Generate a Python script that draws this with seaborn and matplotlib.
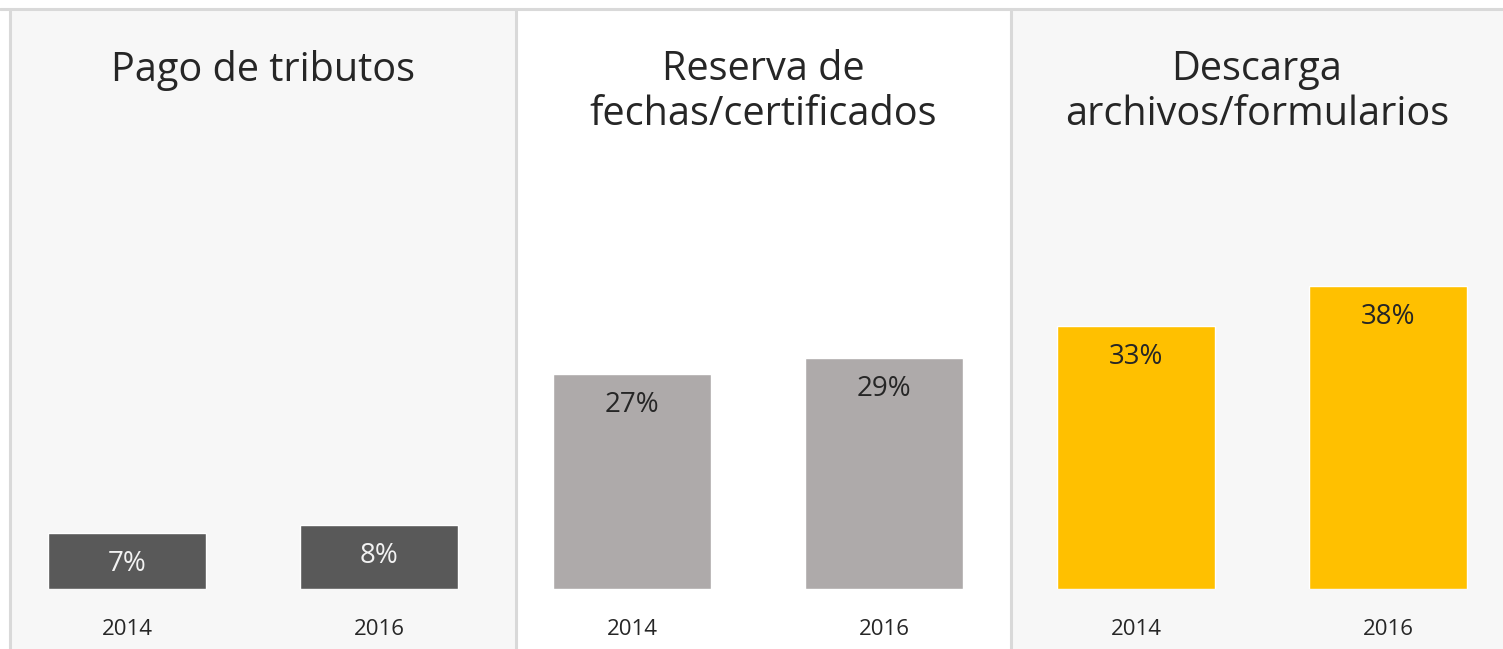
import matplotlib
matplotlib.use("Agg")
import matplotlib.pyplot as plt
import seaborn as sns
from matplotlib.patches import Rectangle
from matplotlib.lines import Line2D

# data
titles = ["Pago de tributos", "Reserva de\nfechas/certificados", "Descarga\narchivos/formularios"]
years = ["2014", "2016"]
pago = [7, 8]
reserva = [27, 29]
descarga = [33, 38]
series = [pago, reserva, descarga]

bar_colors = ["#595959", "#AEAAAA", "#FFC000"]
label_colors = ["#F2F2F2", "#262626", "#262626"]
panel_bg = ["#F7F7F7", "#FFFFFF", "#F7F7F7"]

W, H = 1503, 649
sns.set_theme(style="white")
plt.rcParams["font.family"] = ["Open Sans", "DejaVu Sans"]

fig = plt.figure(figsize=(W / 100, H / 100), dpi=100)
fig.patch.set_facecolor("white")

# panel edges in pixels
edges = [10, 516, 1011, 1503]
top_px = 9
base_px = 589          # bar baseline, from top
bar0_px = [127, 632, 1136]   # centre of first bar in each panel
step_px = 252
px_per_unit = 7.97

for i in range(3):
    x0, x1 = edges[i], edges[i + 1]
    fig.patches.append(Rectangle((x0 / W, 0), (x1 - x0) / W, 1 - top_px / H,
                                 transform=fig.transFigure, facecolor=panel_bg[i],
                                 edgecolor="none", zorder=-2))

# borders
border = "#D9D9D9"
fig.lines.append(Line2D([0, 1], [1 - top_px / H] * 2, transform=fig.transFigure,
                        color=border, lw=2.2, zorder=-1))
for xe in edges[:3]:
    fig.lines.append(Line2D([xe / W] * 2, [0, 1 - top_px / H], transform=fig.transFigure,
                            color=border, lw=2.2, zorder=-1))

ax_h = base_px - top_px
for i, vals in enumerate(series):
    left = bar0_px[i] - step_px / 2
    ax = fig.add_axes([left / W, (H - base_px) / H, 2 * step_px / W, ax_h / H])
    ax.patch.set_visible(False)
    sns.barplot(x=years, y=vals, color=bar_colors[i], saturation=1, width=0.63, ax=ax)
    ax.set_xlim(-0.5, 1.5)
    ax.set_ylim(0, ax_h / px_per_unit)
    for j, v in enumerate(vals):
        ax.annotate(f"{v}%", (j, v), xytext=(0, -22.5), textcoords="offset points",
                    ha="center", va="center", fontsize=20, color=label_colors[i])
    ax.set_yticks([])
    ax.tick_params(axis="x", length=0, pad=21.5, labelsize=16, labelcolor="#262626")
    ax.set_xlabel("")
    ax.set_ylabel("")
    for s in ax.spines.values():
        s.set_visible(False)
    fig.text((edges[i] + edges[i + 1]) / 2 / W, 1 - 50 / H, titles[i],
             ha="center", va="top", fontsize=28.5, color="#262626", linespacing=1.12)

fig.savefig("out.png", dpi=100)
